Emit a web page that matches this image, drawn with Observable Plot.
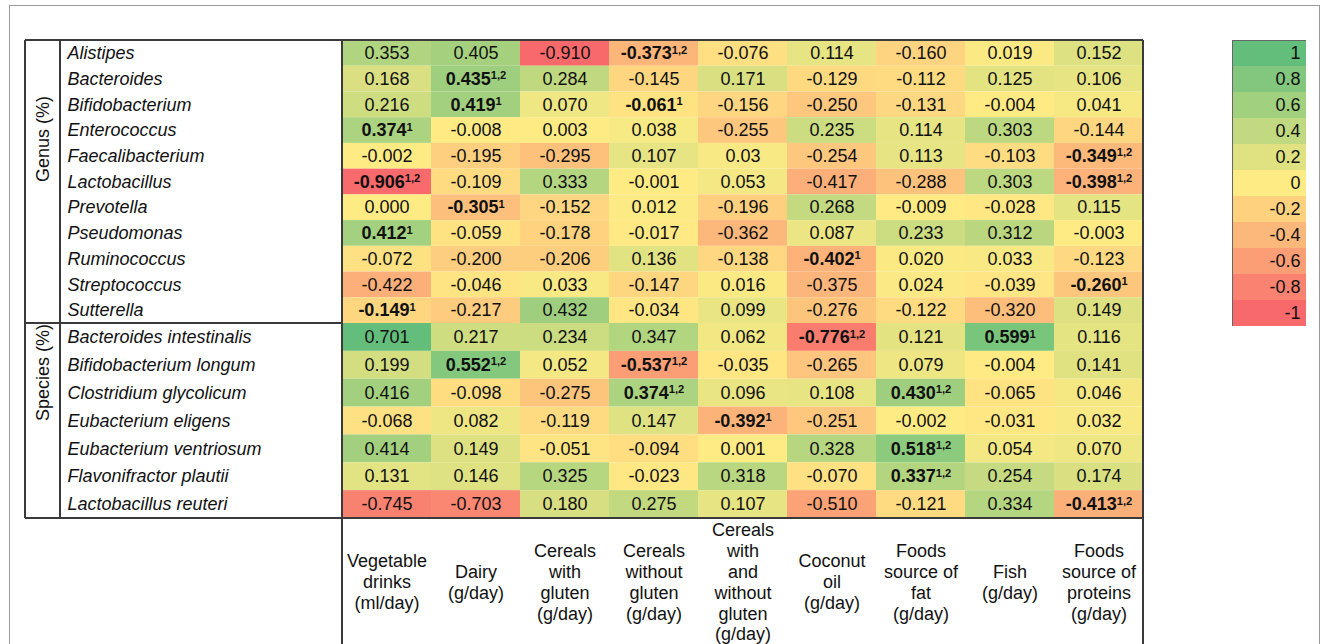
<!DOCTYPE html>
<html><head><meta charset="utf-8">
<script src="https://cdn.jsdelivr.net/npm/d3@7"></script>
<script src="https://cdn.jsdelivr.net/npm/@observablehq/plot@0.6"></script>
<style>
body{margin:0;background:#fff;}
#wrap{position:relative;width:1328px;height:644px;overflow:hidden;font-family:"Liberation Sans",Arial,sans-serif;}
#border{position:absolute;left:9px;top:5px;width:1311px;height:700px;border:1.5px solid #9a9a9a;box-sizing:border-box;}
#main{position:absolute;left:0;top:0;}
#legend{position:absolute;left:1232px;top:40px;}
</style></head><body>
<div id="wrap"><div id="border"></div><div id="main"></div><div id="legend"></div></div>
<script>
const columns = ["Vegetable\ndrinks\n(ml/day)", "Dairy\n(g/day)", "Cereals\nwith\ngluten\n(g/day)", "Cereals\nwithout\ngluten\n(g/day)", "Cereals\nwith\nand\nwithout\ngluten\n(g/day)", "Coconut\noil\n(g/day)", "Foods\nsource of\nfat\n(g/day)", "Fish\n(g/day)", "Foods\nsource of\nproteins\n(g/day)"];

const genus = ["Alistipes","Bacteroides","Bifidobacterium","Enterococcus","Faecalibacterium","Lactobacillus","Prevotella","Pseudomonas","Ruminococcus","Streptococcus","Sutterella"];
const species = ["Bacteroides intestinalis","Bifidobacterium longum","Clostridium glycolicum","Eubacterium eligens","Eubacterium ventriosum","Flavonifractor plautii","Lactobacillus reuteri"];

const genusValues = [
  ["0.353","0.405","-0.910","-0.373","-0.076","0.114","-0.160","0.019","0.152"],
  ["0.168","0.435","0.284","-0.145","0.171","-0.129","-0.112","0.125","0.106"],
  ["0.216","0.419","0.070","-0.061","-0.156","-0.250","-0.131","-0.004","0.041"],
  ["0.374","-0.008","0.003","0.038","-0.255","0.235","0.114","0.303","-0.144"],
  ["-0.002","-0.195","-0.295","0.107","0.03","-0.254","0.113","-0.103","-0.349"],
  ["-0.906","-0.109","0.333","-0.001","0.053","-0.417","-0.288","0.303","-0.398"],
  ["0.000","-0.305","-0.152","0.012","-0.196","0.268","-0.009","-0.028","0.115"],
  ["0.412","-0.059","-0.178","-0.017","-0.362","0.087","0.233","0.312","-0.003"],
  ["-0.072","-0.200","-0.206","0.136","-0.138","-0.402","0.020","0.033","-0.123"],
  ["-0.422","-0.046","0.033","-0.147","0.016","-0.375","0.024","-0.039","-0.260"],
  ["-0.149","-0.217","0.432","-0.034","0.099","-0.276","-0.122","-0.320","0.149"]
];
const speciesValues = [
  ["0.701","0.217","0.234","0.347","0.062","-0.776","0.121","0.599","0.116"],
  ["0.199","0.552","0.052","-0.537","-0.035","-0.265","0.079","-0.004","0.141"],
  ["0.416","-0.098","-0.275","0.374","0.096","0.108","0.430","-0.065","0.046"],
  ["-0.068","0.082","-0.119","0.147","-0.392","-0.251","-0.002","-0.031","0.032"],
  ["0.414","0.149","-0.051","-0.094","0.001","0.328","0.518","0.054","0.070"],
  ["0.131","0.146","0.325","-0.023","0.318","-0.070","0.337","0.254","0.174"],
  ["-0.745","-0.703","0.180","0.275","0.107","-0.510","-0.121","0.334","-0.413"]
];
// significance notes: [row name, column index, note]
const notes = [
  ["Alistipes",3,"1,2"],["Bacteroides",1,"1,2"],["Bifidobacterium",1,"1"],["Bifidobacterium",3,"1"],
  ["Enterococcus",0,"1"],["Faecalibacterium",8,"1,2"],["Lactobacillus",0,"1,2"],["Lactobacillus",8,"1,2"],
  ["Prevotella",1,"1"],["Pseudomonas",0,"1"],["Ruminococcus",5,"1"],["Streptococcus",8,"1"],["Sutterella",0,"1"],
  ["Bacteroides intestinalis",5,"1,2"],["Bacteroides intestinalis",7,"1"],
  ["Bifidobacterium longum",1,"1,2"],["Bifidobacterium longum",3,"1,2"],
  ["Clostridium glycolicum",3,"1,2"],["Clostridium glycolicum",6,"1,2"],
  ["Eubacterium eligens",4,"1"],["Eubacterium ventriosum",6,"1,2"],["Flavonifractor plautii",6,"1,2"],
  ["Lactobacillus reuteri",8,"1,2"]
];
const groups = ["Genus (%)","Species (%)"];
const legendTicks = [1,0.8,0.6,0.4,0.2,0,-0.2,-0.4,-0.6,-0.8,-1];
const palette = ["#F8696B","#FFEB84","#63BE7B"];

const rows = [
  ...genus.map((name,i)=>({name, vals: genusValues[i]})),
  ...species.map((name,i)=>({name, vals: speciesValues[i]}))
];
const cells = [];
rows.forEach((r,i)=>r.vals.forEach((v,j)=>{
  const n = notes.find(d=>d[0]===r.name && d[1]===j);
  cells.push({i, col: columns[j], text: v, value: +v, note: n ? n[2] : ""});
}));
const groupMarks = [
  {label: groups[0], mid: genus.length/2},
  {label: groups[1], mid: genus.length + species.length/2}
];
const values = cells.map(d=>d.value);
const font = '"Liberation Sans", Arial, sans-serif';

const chart = Plot.plot({
  width:1328, height:644, margin:0,
  style:{fontFamily:font, fontSize:"18px", color:"#111", background:"transparent"},
  x:{type:"band", domain:columns, range:[338,1147], padding:0, axis:null},
  y:{type:"linear", domain:[0, genus.length, rows.length], range:[40,323,518], axis:null},
  color:{type:"linear", domain:[d3.min(values),0,d3.max(values)], range:palette, interpolate:"rgb"},
  marks:[
    Plot.barY(cells,{x:"col", y1:d=>d.i, y2:d=>d.i+1, fill:"value", inset:0}),
    Plot.text(cells.filter(d=>!d.note),{x:"col", y:d=>d.i+0.5, text:"text", fill:"#111", fontSize:18}),
    Plot.text(cells.filter(d=>d.note),{x:"col", y:d=>d.i+0.5, text:d=>d.text+"|"+d.note, fill:"#111", fontSize:18, fontWeight:"bold"}),
    Plot.text(rows,{y:(d,i)=>i+0.5, text:"name", frameAnchor:"left", dx:67, textAnchor:"start", fontStyle:"italic", fill:"#111", fontSize:18}),
    Plot.text(groupMarks,{y:"mid", text:"label", frameAnchor:"left", dx:43, rotate:-90, fill:"#111", fontSize:18}),
    Plot.text(columns,{x:d=>d, text:d=>d, frameAnchor:"top", dy:581, lineAnchor:"middle", lineHeight:1.16, fill:"#111", fontSize:18})
  ]
});

// superscripts for significance notes
d3.select(chart).selectAll("text").each(function(){
  if (this.childElementCount > 0) return;
  const t = this.textContent;
  if (!t.includes("|")) return;
  const [v,n] = t.split("|");
  this.textContent = v;
  d3.select(this).append("tspan").attr("dy","-0.5em").attr("font-size","0.62em").text(n);
});

// table rules using the plot's scales
const xs = chart.scale("x"), ys = chart.scale("y");
const yTop = ys.apply(0), yMid = ys.apply(genus.length), yBot = ys.apply(rows.length);
const xL = xs.apply(columns[0]), xR = xs.apply(columns[columns.length-1]) + xs.bandwidth;
const lines = [
  [25,yTop,xR,yTop],[25,yBot,xR,yBot],[25,yMid,xL,yMid],
  [25,yTop,25,yBot],[60,yTop,60,yBot],[xL,yTop,xL,660],[xR,yTop,xR,660]
];
d3.select(chart).append("g").selectAll("line").data(lines).join("line")
  .attr("x1",d=>d[0]).attr("y1",d=>d[1]).attr("x2",d=>d[2]).attr("y2",d=>d[3])
  .attr("stroke","#3a3a3a").attr("stroke-width",1.2).attr("shape-rendering","crispEdges");
document.getElementById("main").append(chart);

const legend = Plot.plot({
  width:74, height:286, margin:0,
  style:{fontFamily:font, fontSize:"18px", color:"#111", background:"transparent"},
  x:{domain:[0,1], axis:null},
  y:{type:"band", domain:legendTicks, padding:0, axis:null},
  color:{type:"linear", domain:[-1,0,1], range:palette, interpolate:"rgb"},
  marks:[
    Plot.barX(legendTicks,{y:d=>d, x1:0, x2:1, fill:d=>d, inset:0}),
    Plot.text(legendTicks,{y:d=>d, text:d=>String(d), frameAnchor:"right", dx:-6, textAnchor:"end", fill:"#111", fontSize:18}),
    Plot.frame({stroke:"#666"})
  ]
});
document.getElementById("legend").append(legend);
</script>
</body></html>
